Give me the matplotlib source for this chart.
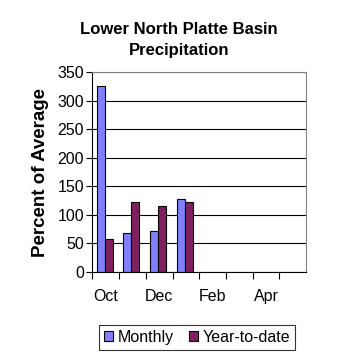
import matplotlib
matplotlib.use("Agg")
import matplotlib.pyplot as plt
import numpy as np

months = ["Oct", "Nov", "Dec", "Jan", "Feb", "Mar", "Apr", "May"]
monthly = [325, 68, 71, 127, np.nan, np.nan, np.nan, np.nan]
ytd = [57, 122, 116, 122, np.nan, np.nan, np.nan, np.nan]
tick_labels = ["Oct", "", "Dec", "", "Feb", "", "Apr", ""]

plt.rcParams['font.family'] = ['Liberation Sans', 'DejaVu Sans']

fig = plt.figure(figsize=(3.58, 3.58), dpi=100)
ax = fig.add_axes([0.258, 0.240, 0.597, 0.559])

x = np.arange(len(months))
w = 0.30
off = -0.045
ax.bar(x + off - w/2, monthly, width=w, color="#8080FF", edgecolor="black", linewidth=0.8, label="Monthly")
ax.bar(x + off + w/2, ytd, width=w, color="#802060", edgecolor="black", linewidth=0.8, label="Year-to-date")

ax.set_xlim(-0.5, len(months) - 0.5)
ax.set_ylim(0, 350)
ax.set_yticks(np.arange(0, 351, 50))
ax.yaxis.grid(True, color="black", linewidth=0.8)
ax.set_axisbelow(True)

ax.set_xticks(x - 0.5)
ax.set_xticklabels([])
ax.set_xticks(x, minor=True)
ax.set_xticklabels(tick_labels, minor=True)
ax.tick_params(axis='x', which='minor', length=0, pad=12, labelsize=11.5)
ax.tick_params(axis='x', which='major', length=5, direction='out', width=0.8)
ax.tick_params(axis='y', length=4, direction='out', labelsize=11.5, width=0.8, pad=2)

ax.spines['top'].set_color("#808080")
ax.spines['right'].set_color("#808080")
for s in ['left', 'bottom']:
    ax.spines[s].set_color("black")

ax.set_ylabel("Percent of Average", fontsize=13.5, fontweight='bold', labelpad=6)
fig.text(0.5, 0.888, "Lower North Platte Basin\nPrecipitation", ha='center', va='center',
         fontsize=12, fontweight='bold', linespacing=1.45)

leg = fig.legend(loc='center', bbox_to_anchor=(0.551, 0.058), ncol=2, frameon=True,
                 fancybox=False, edgecolor="black", fontsize=11.5, handlelength=0.6,
                 handleheight=0.6, handletextpad=0.3, columnspacing=0.9, borderpad=0.3)
leg.get_frame().set_linewidth(0.8)

fig.savefig("out.png", dpi=100)
